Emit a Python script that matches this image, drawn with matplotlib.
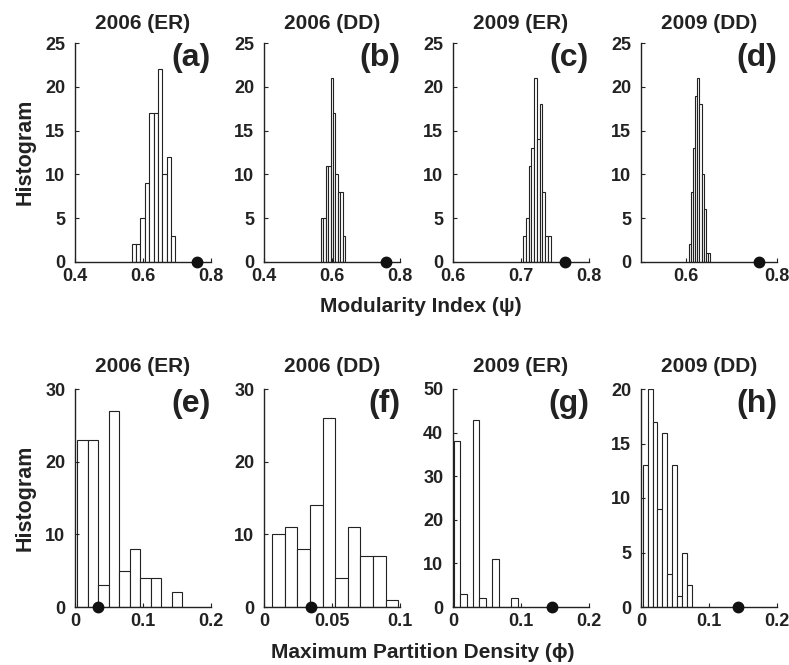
import numpy as np
import matplotlib
matplotlib.use('Agg')
import matplotlib.pyplot as plt

plt.rcParams['font.family'] = ['Liberation Sans', 'DejaVu Sans']
plt.rcParams['font.weight'] = 'bold'

### histogram data (bin range + counts per panel), observed value (dot)
titles = ['2006 (ER)', '2006 (DD)', '2009 (ER)', '2009 (DD)']
tags_top = ['(a)', '(b)', '(c)', '(d)']
tags_bot = ['(e)', '(f)', '(g)', '(h)']

# modularity index
mod_range = [(0.567, 0.695), (0.567, 0.639), (0.703, 0.7436), (0.606, 0.652)]
mod_counts = [
    [2, 2, 5, 9, 17, 17, 22, 10, 12, 3],
    [5, 5, 11, 11, 21, 17, 10, 8, 8, 3],
    [3, 5, 11, 13, 21, 14, 18, 8, 3, 3],
    [2, 8, 13, 19, 21, 18, 10, 6, 1, 1],
]
mod_obs = [0.759, 0.760, 0.765, 0.760]
mod_xlim = [(0.4, 0.8), (0.4, 0.8), (0.6, 0.8), (0.5, 0.8)]
mod_xticks = [[0.4, 0.6, 0.8], [0.4, 0.6, 0.8], [0.6, 0.7, 0.8], [0.6, 0.8]]
mod_xticklabels = [['0.4', '0.6', '0.8'], ['0.4', '0.6', '0.8'], ['0.6', '0.7', '0.8'], ['0.6', '0.8']]
mod_yticks = [0, 5, 10, 15, 20, 25]

# max partition density
pd_range = [(0.003, 0.158), (0.0061, 0.0986), (0.001, 0.0954), (0.00245, 0.075)]
pd_counts = [
    [23, 23, 3, 27, 5, 8, 4, 4, 0, 2],
    [10, 11, 8, 14, 26, 4, 11, 7, 7, 1],
    [38, 3, 0, 43, 2, 0, 11, 0, 0, 2],
    [13, 20, 17, 9, 16, 3, 13, 1, 5, 2],
]
pd_obs = [0.034, 0.0345, 0.145, 0.143]
pd_xlim = [(0, 0.2), (0, 0.1), (0, 0.2), (0, 0.2)]
pd_xticks = [[0, 0.1, 0.2], [0, 0.05, 0.1], [0, 0.1, 0.2], [0, 0.1, 0.2]]
pd_xticklabels = [['0', '0.1', '0.2'], ['0', '0.05', '0.1'], ['0', '0.1', '0.2'], ['0', '0.1', '0.2']]
pd_ylim = [30, 30, 50, 20]
pd_yticks = [[0, 10, 20, 30], [0, 10, 20, 30], [0, 10, 20, 30, 40, 50], [0, 5, 10, 15, 20]]

W, H = 789, 665
fig = plt.figure(figsize=(W / 100, H / 100), dpi=100)

lefts = [75, 264, 453, 641]
aw = 136
ink = '#222222'


def panel(left_px, top_px, bottom_px, rng, counts, obs, xlim, xticks, xtl, ylim, yticks, title, tag, tpad):
    ax = fig.add_axes([left_px / W, 1 - bottom_px / H, aw / W, (bottom_px - top_px) / H])
    n = len(counts)
    edges = np.linspace(rng[0], rng[1], n + 1)
    ax.bar(edges[:-1], counts, width=edges[1] - edges[0], align='edge',
           facecolor='white', edgecolor=ink, linewidth=0.8)
    ax.plot([obs], [0], 'o', color='#111111', markersize=7.5, clip_on=False, zorder=5)
    ax.set_xlim(*xlim)
    ax.set_ylim(0, ylim)
    ax.set_xticks(xticks)
    ax.set_xticklabels(xtl)
    ax.set_yticks(yticks)
    for s in ['top', 'right']:
        ax.spines[s].set_visible(False)
    for s in ['left', 'bottom']:
        ax.spines[s].set_color(ink)
        ax.spines[s].set_linewidth(1.0)
    ax.tick_params(axis='x', direction='in', length=3, width=0.8, pad=4, labelsize=13, colors=ink)
    ax.tick_params(axis='y', direction='in', length=3, width=0.8, pad=7, labelsize=13, colors=ink)
    for lb in ax.get_xticklabels() + ax.get_yticklabels():
        lb.set_fontweight('bold')
    ax.set_title(title, fontsize=15, fontweight='bold', pad=tpad, color=ink)
    ax.text(1.0, 1.0, tag, transform=ax.transAxes, ha='right', va='top',
            fontsize=23, fontweight='bold', color=ink)
    return ax


for i in range(4):
    panel(lefts[i], 43, 262, mod_range[i], mod_counts[i], mod_obs[i], mod_xlim[i],
          mod_xticks[i], mod_xticklabels[i], 25, mod_yticks, titles[i], tags_top[i], 10)
    panel(lefts[i], 389, 607, pd_range[i], pd_counts[i], pd_obs[i], pd_xlim[i],
          pd_xticks[i], pd_xticklabels[i], pd_ylim[i], pd_yticks[i], titles[i], tags_bot[i], 12)

fig.text(25 / W, 1 - 152 / H, 'Histogram', rotation=90, ha='center', va='center',
         fontsize=15.5, fontweight='bold', color=ink)
fig.text(25 / W, 1 - 498 / H, 'Histogram', rotation=90, ha='center', va='center',
         fontsize=15.5, fontweight='bold', color=ink)
fig.text(421 / W, 1 - 307 / H, 'Modularity Index (\u03c8)', ha='center', va='center',
         fontsize=15, fontweight='bold', color=ink)
fig.text(423 / W, 1 - 653 / H, 'Maximum Partition Density (\u03d5)', ha='center', va='center',
         fontsize=15, fontweight='bold', color=ink)

fig.savefig('out.png', dpi=100)
